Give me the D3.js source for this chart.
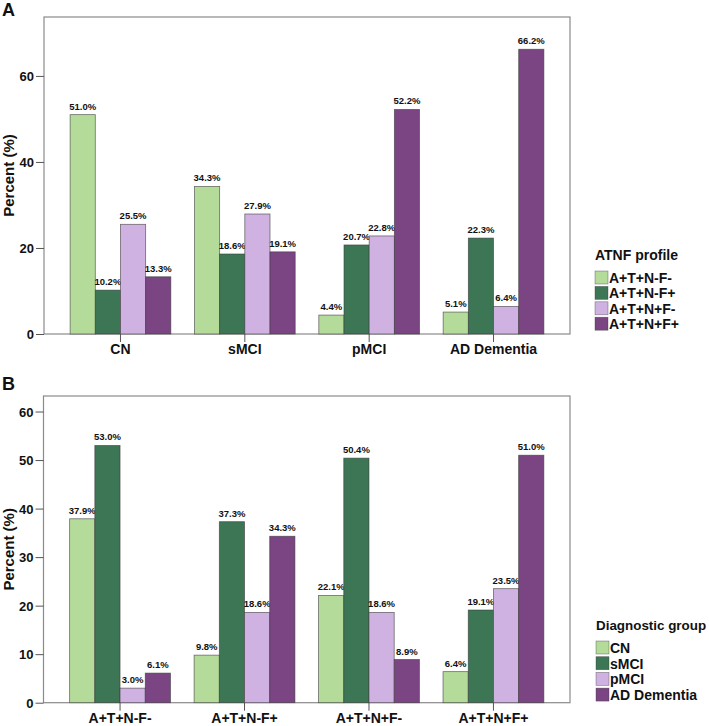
<!DOCTYPE html>
<html>
<head>
<meta charset="utf-8">
<script src="https://cdn.jsdelivr.net/npm/d3@7"></script>
<style>
  html, body { margin: 0; padding: 0; background: #fff; }
  svg text { font-family: "Liberation Sans", Arial, sans-serif; font-weight: bold; fill: #111; }
</style>
</head>
<body>
<svg id="chart" width="709" height="726"></svg>
<script>
// ---- Data ----
const groupsA = ["CN", "sMCI", "pMCI", "AD Dementia"];
const seriesA = ["A+T+N-F-", "A+T+N-F+", "A+T+N+F-", "A+T+N+F+"];
const valuesA_NminusFminus = [51.0, 34.3, 4.4, 5.1];
const valuesA_NminusFplus  = [10.2, 18.6, 20.7, 22.3];
const valuesA_NplusFminus  = [25.5, 27.9, 22.8, 6.4];
const valuesA_NplusFplus   = [13.3, 19.1, 52.2, 66.2];
const ticksA = [0, 20, 40, 60];

const groupsB = ["A+T+N-F-", "A+T+N-F+", "A+T+N+F-", "A+T+N+F+"];
const seriesB = ["CN", "sMCI", "pMCI", "AD Dementia"];
const valuesB_CN   = [37.9, 9.8, 22.1, 6.4];
const valuesB_sMCI = [53.0, 37.3, 50.4, 19.1];
const valuesB_pMCI = [3.0, 18.6, 18.6, 23.5];
const valuesB_AD   = [6.1, 34.3, 8.9, 51.0];
const ticksB = [0, 10, 20, 30, 40, 50, 60];

const colors = ["#b4db99", "#3c7655", "#cfb2e1", "#7b4583"];

const svg = d3.select("#chart");

function panel(cfg) {
  const g = svg.append("g");
  const x = d3.scaleBand().domain(cfg.groups).range([cfg.x0, cfg.x1])
    .paddingInner(0.19).paddingOuter(0.21);
  const xs = d3.scaleBand().domain(cfg.series).range([0, x.bandwidth()]);
  const y = d3.scaleLinear().domain(cfg.ydom).range([cfg.yBase, cfg.yTop]);

  // frame
  g.append("rect").attr("x", cfg.x0).attr("y", cfg.yTop)
    .attr("width", cfg.x1 - cfg.x0).attr("height", cfg.yBase - cfg.yTop)
    .attr("fill", "none").attr("stroke", "#8a8a8a").attr("stroke-width", 1.2);

  // bars
  cfg.groups.forEach((grp, gi) => {
    cfg.series.forEach((s, si) => {
      const v = cfg.values[si][gi];
      const bx = x(grp) + xs(s);
      g.append("rect")
        .attr("x", bx).attr("y", y(v))
        .attr("width", xs.bandwidth()).attr("height", y(0) - y(v))
        .attr("fill", colors[si]).attr("stroke", "#3a3a3a").attr("stroke-width", 0.8)
        .attr("stroke-opacity", 0.7);
      g.append("text")
        .attr("x", bx + xs.bandwidth() / 2).attr("y", y(v) - 5)
        .attr("text-anchor", "middle").attr("font-size", "9.5px")
        .text(v.toFixed(1) + "%");
    });
  });

  // y axis
  const ya = d3.axisLeft(y).tickValues(cfg.ticks).tickSize(8).tickPadding(2).tickFormat(d3.format("d"));
  const yg = g.append("g").attr("transform", `translate(${cfg.x0},0)`).call(ya);
  yg.select(".domain").remove();
  yg.selectAll("line").attr("stroke", "#555");
  yg.selectAll("text").attr("font-size", "13px").attr("dy", "0.35em").attr("fill", "#111");

  // x axis
  const xa = d3.axisBottom(x).tickSize(8).tickPadding(2);
  const xg = g.append("g").attr("transform", `translate(0,${cfg.yBase})`).call(xa);
  xg.select(".domain").remove();
  xg.selectAll("line").attr("stroke", "#555");
  xg.selectAll("text").attr("font-size", "14px").attr("dy", "0.71em").attr("fill", "#111");

  // y title
  g.append("text")
    .attr("transform", `translate(14,${(cfg.yTop + cfg.yBase) / 2}) rotate(-90)`)
    .attr("text-anchor", "middle").attr("font-size", "15px")
    .text("Percent (%)");

  // panel letter
  g.append("text").attr("x", 2).attr("y", cfg.letterY).attr("font-size", "18px").text(cfg.letter);

  // legend
  const lg = g.append("g");
  lg.append("text").attr("x", cfg.legX).attr("y", cfg.legY).attr("font-size", cfg.legTitleSize).text(cfg.legTitle);
  cfg.series.forEach((s, si) => {
    const ry = cfg.legY + 11 + si * cfg.legStep;
    lg.append("rect").attr("x", cfg.legX).attr("y", ry)
      .attr("width", 13).attr("height", 13)
      .attr("fill", colors[si]).attr("stroke", "#3a3a3a").attr("stroke-width", 0.6).attr("stroke-opacity", 0.6);
    lg.append("text").attr("x", cfg.legX + 14).attr("y", ry + 12)
      .attr("font-size", "14px").text(s);
  });
}

panel({
  groups: groupsA, series: seriesA,
  values: [valuesA_NminusFminus, valuesA_NminusFplus, valuesA_NplusFminus, valuesA_NplusFplus],
  ticks: ticksA, ydom: [0, 73.7],
  x0: 44, x1: 570, yTop: 17, yBase: 334,
  letter: "A", letterY: 16,
  legTitle: "ATNF profile", legTitleSize: "14px", legX: 595, legY: 260, legStep: 15.4
});

panel({
  groups: groupsB, series: seriesB,
  values: [valuesB_CN, valuesB_sMCI, valuesB_pMCI, valuesB_AD],
  ticks: ticksB, ydom: [0, 63.2],
  x0: 43.5, x1: 570, yTop: 396, yBase: 702.7,
  letter: "B", letterY: 390,
  legTitle: "Diagnostic group", legTitleSize: "13.4px", legX: 596, legY: 630, legStep: 15.7
});
</script>
</body>
</html>
